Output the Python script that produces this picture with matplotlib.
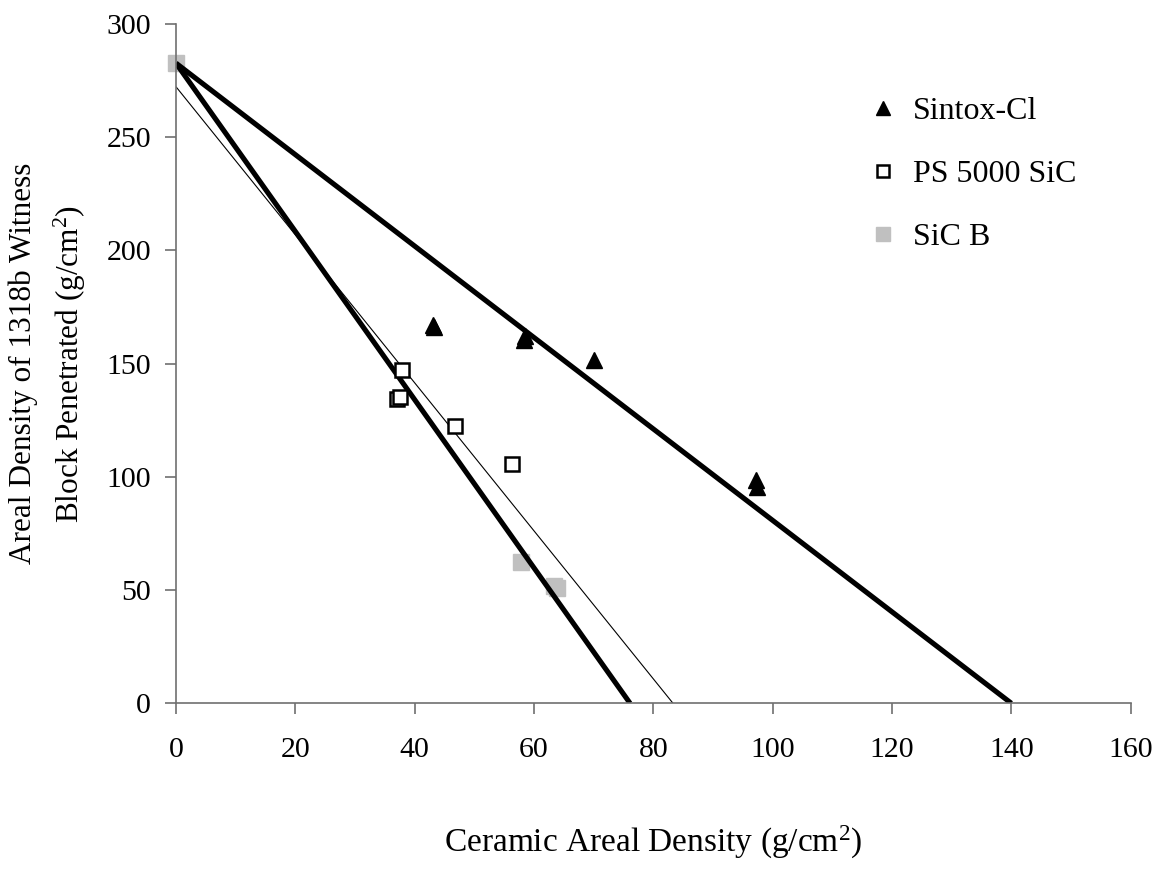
import matplotlib
matplotlib.use("Agg")
import matplotlib.pyplot as plt

plt.rcParams["font.family"] = ["Liberation Serif", "DejaVu Serif"]
plt.rcParams["mathtext.fontset"] = "custom"
plt.rcParams["mathtext.rm"] = "Liberation Serif"
plt.rcParams["mathtext.it"] = "Liberation Serif:italic"

# measured points
sintox_x = [43.0, 43.2, 58.5, 58.3, 70.1, 97.2, 97.3]
sintox_y = [167.0, 166.0, 162.0, 160.5, 151.6, 98.6, 95.3]

ps_x = [37.9, 37.0, 37.6, 46.8, 56.4]
ps_y = [147.3, 134.3, 135.3, 122.6, 105.6]

sicb_x = [0.0, 57.8, 63.3, 63.9]
sicb_y = [282.7, 62.5, 52.0, 51.0]

# trend lines: (intercept on y, intercept on x)
sintox_fit = (282.7, 140.0)
ps_fit = (282.7, 76.1)
sicb_fit = (272.3, 83.3)

fig = plt.figure(figsize=(11.63, 8.69), dpi=100)
ax = fig.add_axes([0.1513, 0.1907, 0.8209, 0.7817])

for (y0, x0), lw in [(sintox_fit, 3.7), (ps_fit, 3.7), (sicb_fit, 0.8)]:
    ax.plot([0, x0], [y0, 0], color="black", linewidth=lw, solid_capstyle="butt", zorder=2)

ax.plot(sintox_x, sintox_y, linestyle="none", marker="^", markersize=12,
        color="black", label="Sintox-Cl", zorder=3)
ax.plot(ps_x, ps_y, linestyle="none", marker="s", markersize=10.5,
        markerfacecolor="white", markeredgecolor="black", markeredgewidth=1.8,
        label="PS 5000 SiC", zorder=3)
ax.plot(sicb_x, sicb_y, linestyle="none", marker="s", markersize=12,
        color="#c0c0c0", label="SiC B", zorder=1, clip_on=False)

ax.set_xlim(0, 160)
ax.set_ylim(0, 300)
ax.set_xticks(range(0, 161, 20))
ax.set_yticks(range(0, 301, 50))

for side in ["top", "right"]:
    ax.spines[side].set_visible(False)
for side in ["left", "bottom"]:
    ax.spines[side].set_color("#707070")
    ax.spines[side].set_linewidth(1.2)
ax.tick_params(direction="out", length=8, width=1.2, color="#707070", labelsize=21.5)
ax.tick_params(axis="x", pad=16)
ax.tick_params(axis="y", pad=10)

ax.set_xlabel("Ceramic Areal Density (g/cm$^2$)", fontsize=24, labelpad=44)
ax.set_ylabel("Areal Density of 1318b Witness\nBlock Penetrated (g/cm$^2$)",
              fontsize=22.5, linespacing=1.5)
ax.yaxis.set_label_coords(-0.092, 0.5)

ax.legend(loc="upper left", bbox_to_anchor=(0.695, 0.935), frameon=False,
          fontsize=23, labelspacing=1.05, handletextpad=0.5, handlelength=0.9,
          markerscale=0.85)

fig.savefig("out.png", dpi=100)
